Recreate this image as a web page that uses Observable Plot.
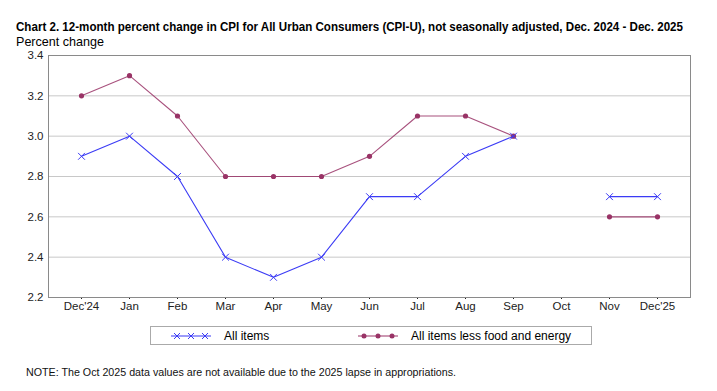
<!DOCTYPE html>
<html>
<head>
<meta charset="utf-8">
<script src="https://cdn.jsdelivr.net/npm/d3@7"></script>
<script src="https://cdn.jsdelivr.net/npm/@observablehq/plot@0.6"></script>
<style>
  body { margin: 0; background: #fff; font-family: "Liberation Sans", Arial, sans-serif; }
  #wrap { position: relative; width: 717px; height: 391px; }
  #title { position: absolute; left: 16px; top: 19px; font-weight: bold; font-size: 13px; white-space: nowrap; color: #000; transform-origin: 0 0; }
  #ylabel { position: absolute; left: 16px; top: 34px; font-size: 13px; white-space: nowrap; color: #000; transform-origin: 0 0; }
  #chart { position: absolute; left: 0; top: 0; }
  #legend { position: absolute; left: 150px; top: 326px; width: 442px; height: 19px; border: 1px solid #aaa; box-sizing: border-box; font-size: 12px; }
  #legend .item { position: absolute; top: 0; height: 18px; display: flex; align-items: center; }
  #note { position: absolute; left: 26px; top: 366px; font-size: 10.7px; color: #111; white-space: nowrap; }
</style>
</head>
<body>
<div id="wrap">
  <div id="chart"></div>
  <div id="title">Chart 2. 12-month percent change in CPI for All Urban Consumers (CPI-U), not seasonally adjusted, Dec. 2024 - Dec. 2025</div>
  <div id="ylabel">Percent change</div>
  <div id="legend"></div>
  <div id="note">NOTE: The Oct 2025 data values are not available due to the 2025 lapse in appropriations.</div>
</div>
<script>
const months = ["Dec'24","Jan","Feb","Mar","Apr","May","Jun","Jul","Aug","Sep","Oct","Nov","Dec'25"];
const allItems = [2.9, 3.0, 2.8, 2.4, 2.3, 2.4, 2.7, 2.7, 2.9, 3.0, null, 2.7, 2.7];
const core = [3.2, 3.3, 3.1, 2.8, 2.8, 2.8, 2.9, 3.1, 3.1, 3.0, null, 2.6, 2.6];
const yTicks = [2.2, 2.4, 2.6, 2.8, 3.0, 3.2, 3.4];
const seriesNames = ["All items", "All items less food and energy"];
const blue = "#3b3bf5";
const maroon = "#993366";

const allData = months.map((m, i) => ({month: m, value: allItems[i]}));
const coreData = months.map((m, i) => ({month: m, value: core[i]}));

const chart = Plot.plot({
  width: 717,
  height: 320,
  marginTop: 55,
  marginBottom: 23,
  marginLeft: 48,
  marginRight: 27,
  style: {fontFamily: "Liberation Sans, Arial, sans-serif", fontSize: "11.5px", color: "#222", background: "transparent"},
  x: {type: "point", domain: months, padding: 0.67, label: null, tickSize: 2, tickPadding: 2},
  y: {domain: [2.2, 3.4], ticks: yTicks, tickFormat: d3.format(".1f"), label: null, tickSize: 0, tickPadding: 5},
  marks: [
    Plot.gridY(yTicks, {stroke: "#c8c8c8", strokeOpacity: 1}),
    Plot.frame({stroke: "#8a8a8a"}),
    Plot.line(coreData, {x: "month", y: "value", stroke: maroon, strokeOpacity: 0.85, strokeWidth: 1.1}),
    Plot.dot(coreData.filter(d => d.value != null), {x: "month", y: "value", fill: maroon, r: 2.6, stroke: "none"}),
    Plot.line(allData, {x: "month", y: "value", stroke: blue, strokeWidth: 1.1}),
    Plot.dot(allData.filter(d => d.value != null), {x: "month", y: "value", symbol: "times", stroke: blue, r: 3.2, strokeWidth: 1})
  ]
});
document.getElementById("chart").appendChild(chart);

// condense title and y label to the reference's narrow face
function fitWidth(id, target) {
  const el = document.getElementById(id);
  const w = el.getBoundingClientRect().width;
  el.style.transform = `scaleX(${target / w})`;
}
fitWidth("title", 667);
fitWidth("ylabel", 88);

// legend
const legend = document.getElementById("legend");
function swatch(kind, color) {
  const s = d3.create("svg").attr("width", 42).attr("height", 10);
  s.append("line").attr("x1", 1).attr("x2", 41).attr("y1", 5).attr("y2", 5).attr("stroke", color).attr("stroke-width", 1.1);
  [7, 21, 35].forEach(cx => {
    if (kind === "times") {
      s.append("path").attr("d", `M${cx-3},2L${cx+3},8M${cx-3},8L${cx+3},2`).attr("stroke", color).attr("fill", "none");
    } else {
      s.append("circle").attr("cx", cx).attr("cy", 5).attr("r", 2.5).attr("fill", color);
    }
  });
  return s.node();
}
const items = [
  {name: seriesNames[0], kind: "times", color: blue, left: 19},
  {name: seriesNames[1], kind: "dot", color: maroon, left: 206}
];
items.forEach(it => {
  const div = document.createElement("div");
  div.className = "item";
  div.style.left = it.left + "px";
  div.appendChild(swatch(it.kind, it.color));
  const span = document.createElement("span");
  span.textContent = it.name;
  span.style.marginLeft = "12px";
  div.appendChild(span);
  legend.appendChild(div);
});
</script>
</body>
</html>
